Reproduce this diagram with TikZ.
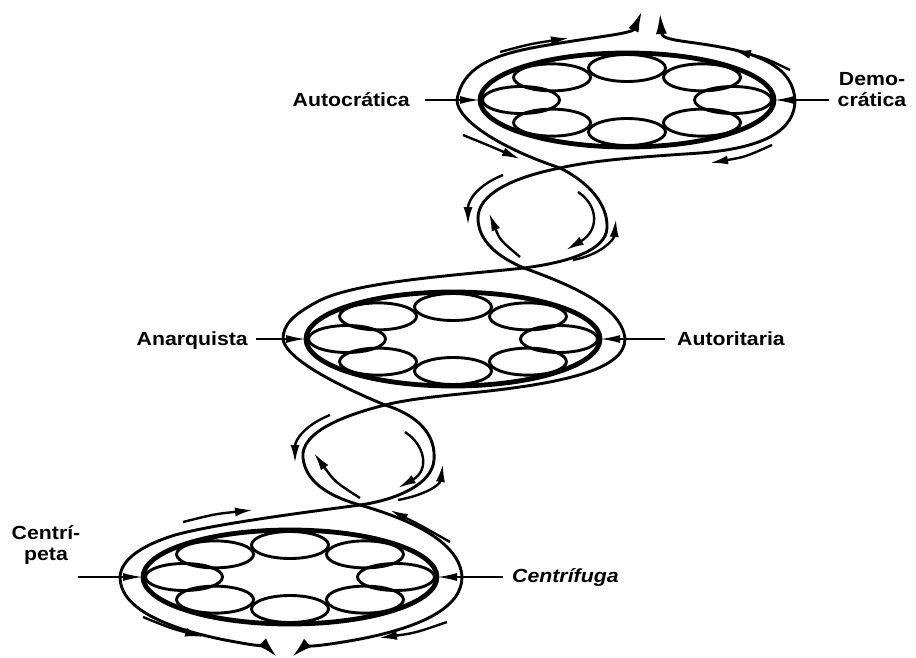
\documentclass[tikz,border=0pt]{standalone}
\usepackage{fontspec}
\newfontfamily\labfont{Liberation Sans}[FakeStretch=1.12]
\usetikzlibrary{arrows.meta,shapes.geometric,calc}
\begin{document}
\begin{tikzpicture}[x=1pt,y=-1pt,
  ring/.style={draw,ellipse,line width=4.8pt,minimum width=294pt,minimum height=94pt,inner sep=0pt,outer sep=0pt},
  cell/.style={draw,ellipse,line width=2.9pt,minimum width=77pt,minimum height=27pt,inner sep=0pt},
  env/.style={line width=2.9pt},
  flow/.style={line width=2.4pt,-{Latex[length=18pt,width=9pt]}},
  tipend/.style={line width=2.9pt,-{Latex[length=21pt,width=11pt]}},
  lab/.style={font=\labfont\bfseries\fontsize{19}{21}\selectfont,inner sep=0pt},
  pointer/.style={line width=2pt,-{Latex[length=20pt,width=8pt]}}]
\fill[white] (0,0) rectangle (916,658);
\path[use as bounding box] (0,0) rectangle (916,658);

% units
\foreach \n/\cx/\cy in {1/627/100, 2/453/339, 3/290/577} {
  \node[ring] (u\n) at (\cx,\cy) {};
  \foreach \k in {0,...,7} {
    \node[cell] (u\n c\k) at ($(u\n.center)+(\k*45:106pt and 32pt)$) {};
  }
}

% key points of the envelope
\coordinate (L1) at (457,100);
\coordinate (R1) at (795,100);
\coordinate (T1a) at (642,11);
\coordinate (T1b) at (660,13);
\coordinate (X1) at (560,168);
\coordinate (Y1) at (524,268);
\coordinate (L2) at (283,339);
\coordinate (R2) at (625,339);
\coordinate (X2) at (385,405);
\coordinate (Y2) at (360,505);
\coordinate (L3) at (120,577);
\coordinate (R3) at (462,577);
\coordinate (T3a) at (277,657);
\coordinate (T3b) at (292,657);

% top outlets
\draw[tipend] (L1) .. controls (462,68) and (492,55) .. (537,47) .. controls (592,37) and (632,34) .. (T1a);
\draw[tipend] (R1) .. controls (793,75) and (775,60) .. (735,50) .. controls (690,40) and (662,42) .. (T1b);

% curve A
\draw[env] (L1) .. controls (457,120) and (500,148) .. (X1)
  .. controls (590,183) and (608,205) .. (607,228)
  .. controls (606,250) and (570,262) .. (Y1)
  .. controls (450,276) and (350,282) .. (315,303)
  .. controls (293,315) and (283,325) .. (L2);
% curve B
\draw[env] (R1) .. controls (795,130) and (765,148) .. (700,153)
  .. controls (640,157) and (595,160) .. (X1)
  .. controls (510,178) and (478,195) .. (478,218)
  .. controls (478,242) and (500,258) .. (Y1)
  .. controls (565,283) and (622,305) .. (R2);
% curve C
\draw[env] (L2) .. controls (285,355) and (320,378) .. (X2)
  .. controls (420,416) and (436,436) .. (434,460)
  .. controls (432,485) and (395,500) .. (Y2)
  .. controls (300,513) and (215,524) .. (175,535)
  .. controls (140,546) and (121,560) .. (L3);
% curve D
\draw[env] (R2) .. controls (625,368) and (570,383) .. (470,393)
  .. controls (430,397) and (405,400) .. (X2)
  .. controls (345,415) and (300,432) .. (303,458)
  .. controls (306,485) and (335,498) .. (Y2)
  .. controls (405,518) and (460,540) .. (R3);

% bottom outlets
\draw[tipend] (L3) .. controls (120,608) and (165,628) .. (225,640) .. controls (252,645) and (268,648) .. (T3a);
\draw[tipend] (R3) .. controls (462,608) and (420,628) .. (355,640) .. controls (320,646) and (302,648) .. (T3b);

% flow arrows, top unit
\draw[flow] (500,52) .. controls (530,44) .. (569,38);
\draw[flow] (463,135) .. controls (490,146) .. (520,159);
\draw[flow] (790,70) .. controls (765,58) .. (733,50);
\draw[flow] (772,145) .. controls (745,157) .. (710,163);
% loop 1
\draw[flow] (503,175) .. controls (478,185) and (468,200) .. (468,225);
\draw[flow] (520,257) .. controls (500,240) .. (489,213);
\draw[flow] (578,192) .. controls (598,205) and (600,230) .. (566,250);
\draw[flow] (573,260) .. controls (600,255) and (614,240) .. (616,219);
% loop 2
\draw[flow] (330,415) .. controls (305,425) and (295,440) .. (295,463);
\draw[flow] (360,498) .. controls (335,482) .. (314,453);
\draw[flow] (405,432) .. controls (425,445) and (430,470) .. (398,488);
\draw[flow] (398,500) .. controls (425,495) and (440,485) .. (443,464);
% bottom unit
\draw[flow] (450,542) .. controls (420,525) .. (390,510);
\draw[flow] (183,522) .. controls (215,514) .. (253,510);
\draw[flow] (143,617) .. controls (170,628) .. (203,637);
\draw[flow] (447,622) .. controls (415,633) .. (379,638);

% labels
\node[lab,anchor=base east] (autoc) at (410,107) {Autocrática};
\node[lab,anchor=base,align=center] (demo) at (872,107) {Demo-\\crática};
\node[lab,anchor=base east] (anar) at (248,345) {Anarquista};
\node[lab,anchor=base west] (autor) at (677,345) {Autoritaria};
\node[lab,anchor=base,align=center] (centri) at (46,560) {Centrí-\\peta};
\node[lab,anchor=base west,font=\labfont\bfseries\itshape\fontsize{19}{21}\selectfont] (fuga) at (512,582) {Centrífuga};

\draw[pointer] ($(autoc.east |- u1.west)+(15,0)$) -- (u1.west);
\draw[pointer] ($(demo.west |- u1.east)+(-8,0)$) -- (u1.east);
\draw[pointer] ($(anar.east |- u2.west)+(8,0)$) -- (u2.west);
\draw[pointer] ($(autor.west |- u2.east)+(-12,0)$) -- (u2.east);
\draw[pointer] ($(centri.east |- u3.west)+(-2,0)$) -- (u3.west);
\draw[pointer] ($(fuga.west |- u3.east)+(-9,0)$) -- (u3.east);
\end{tikzpicture}
\end{document}
